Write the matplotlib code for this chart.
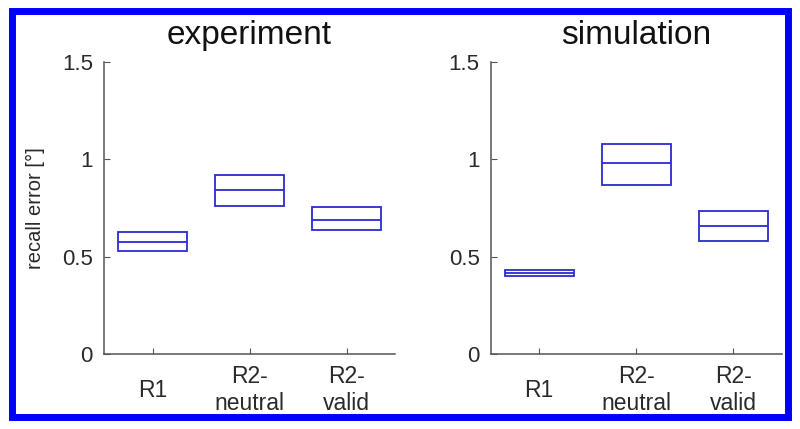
import matplotlib.pyplot as plt
import matplotlib.patches as mpatches
import numpy as np

plt.rcParams['font.family'] = ['Liberation Sans', 'DejaVu Sans']

# Data (box = lower / median / upper)
categories = ['R1', 'R2-\nneutral', 'R2-\nvalid']
exp_low = [0.53, 0.76, 0.635]
exp_med = [0.575, 0.84, 0.69]
exp_high = [0.625, 0.92, 0.755]
sim_low = [0.40, 0.87, 0.58]
sim_med = [0.415, 0.98, 0.655]
sim_high = [0.43, 1.08, 0.735]
yticks = [0, 0.5, 1, 1.5]
yticklabels = ['0', '0.5', '1', '1.5']

box_color = '#2b2bd0'
axis_color = '#555555'
text_color = '#2a2a2a'

fig = plt.figure(figsize=(8, 4.29), dpi=100, facecolor='white')
ax1 = fig.add_axes([0.130, 0.1748, 0.364, 0.6807])
ax2 = fig.add_axes([0.6134, 0.1748, 0.3637, 0.6807])

panels = [(ax1, 'experiment', exp_low, exp_med, exp_high),
          (ax2, 'simulation', sim_low, sim_med, sim_high)]

x = np.arange(1, len(categories) + 1)
width = 0.71

for ax, title, lo, med, hi in panels:
    heights = [h - l for h, l in zip(hi, lo)]
    ax.bar(x, heights, width, bottom=lo, fill=False, edgecolor=box_color, linewidth=1.3)
    ax.hlines(med, x - width / 2, x + width / 2, color=box_color, linewidth=1.3)

    ax.set_xlim(0.5, 3.5)
    ax.set_ylim(0, 1.5)
    ax.set_xticks(x)
    ax.set_xticklabels(categories, fontsize=16.5, color=text_color, linespacing=1.2)
    ax.set_yticks(yticks)
    ax.set_yticklabels(yticklabels, fontsize=16, color=text_color)
    for lab in ax.get_xticklabels():
        lab.set_va('center')
    ax.tick_params(axis='x', direction='in', length=4, color=axis_color, pad=26)
    ax.tick_params(axis='y', direction='in', length=4, color=axis_color, pad=8)

    for side in ['top', 'right']:
        ax.spines[side].set_visible(False)
    for side in ['left', 'bottom']:
        ax.spines[side].set_color(axis_color)
        ax.spines[side].set_linewidth(1.1)

    ax.set_title(title, fontsize=24, color='#111111', pad=13)

ax1.set_ylabel('recall error [°]', fontsize=14.5, color=text_color, labelpad=12)

# Blue frame around the whole figure
frame = mpatches.Rectangle((0.0144, 0.0291), 0.9712, 0.9441, transform=fig.transFigure,
                           fill=False, edgecolor='#0000ff', linewidth=5.0)
fig.patches.append(frame)

plt.savefig('out.png', dpi=100, facecolor='white')
